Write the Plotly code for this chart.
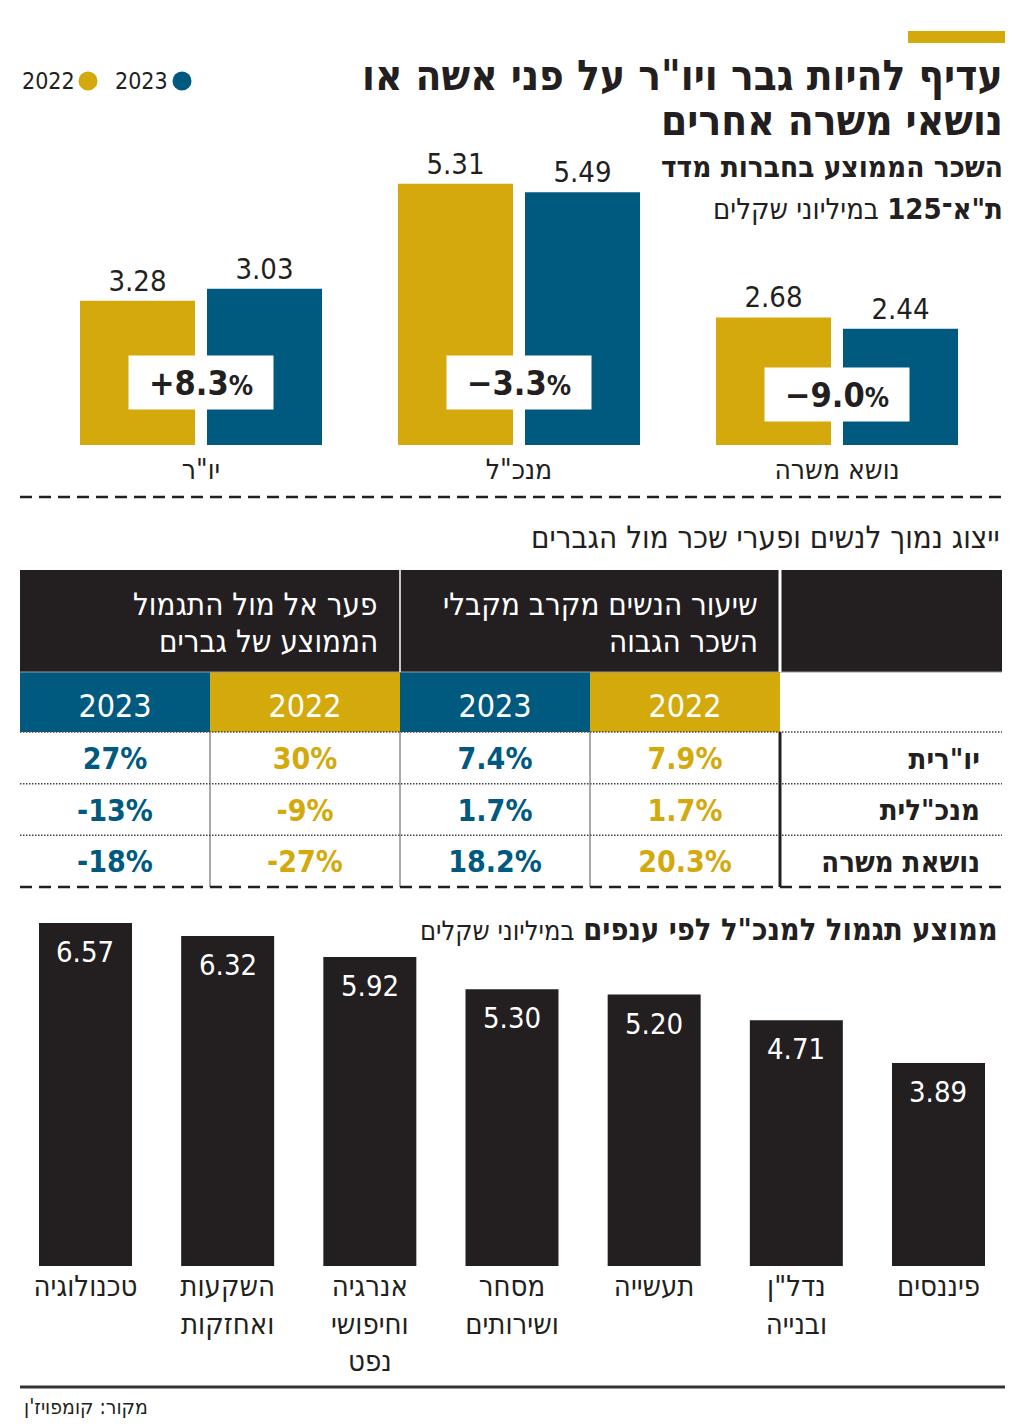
import plotly.graph_objects as go

W, H = 1024, 1428
GOLD = "#D3A90C"
BLUE = "#005A80"
INK = "#231F20"
FONT = "DejaVu Sans Condensed, DejaVu Sans, sans-serif"

# ---------------- data ----------------
legend_years = ["2022", "2023"]

roles = ['יו"ר', 'מנכ"ל', 'נושא משרה']
pay_2022 = [3.03, 5.49, 2.68]          # bar heights as drawn
pay_2023 = [3.28, 5.31, 2.44]
printed_2022 = ["3.28", "5.31", "2.68"]  # labels as printed above the bars
printed_2023 = ["3.03", "5.49", "2.44"]
pay_change = [8.3, -3.3, -9.0]

table_groups = [["פער אל מול התגמול", "הממוצע של גברים"],
                ["שיעור הנשים מקרב מקבלי", "השכר הגבוה"]]
table_years = ["2023", "2022", "2023", "2022"]
table_rows = ['יו"רית', 'מנכ"לית', 'נושאת משרה']
gap_2023 = ["27%", "-13%", "-18%"]
gap_2022 = ["30%", "-9%", "-27%"]
share_2023 = ["7.4%", "1.7%", "18.2%"]
share_2022 = ["7.9%", "1.7%", "20.3%"]

sectors = ["טכנולוגיה", "השקעות<br>ואחזקות", "אנרגיה<br>וחיפושי<br>נפט",
           "מסחר<br>ושירותים", "תעשייה", 'נדל"ן<br>ובנייה', "פיננסים"]
ceo_pay = [6.57, 6.32, 5.92, 5.30, 5.20, 4.71, 3.89]

# ---------------- layout helpers ----------------
def X(px):
    return px / W

def Y(py):
    return 1 - py / H

SC1, BASE1, TOP_MAX = 47.6, 445, 6.5
SC2, BASE2, BOT_MAX = 52.2, 1266, 7.0
BOX_Y = [1.32, 1.32, 1.07]

fig = go.Figure()

# ---------------- top chart ----------------
GROUP = 318.0
fig.add_trace(go.Bar(
    x=roles, y=pay_2022, name=legend_years[0], marker=dict(color=GOLD, line=dict(width=0)),
    width=115 / GROUP, offset=-121 / GROUP,
    text=printed_2022, textposition="outside", cliponaxis=False,
    textfont=dict(size=29, color=INK, family=FONT),
    xaxis="x", yaxis="y", showlegend=False, hoverinfo="skip"))
fig.add_trace(go.Bar(
    x=roles, y=pay_2023, name=legend_years[1], marker=dict(color=BLUE, line=dict(width=0)),
    width=115 / GROUP, offset=6 / GROUP,
    text=printed_2023, textposition="outside", cliponaxis=False,
    textfont=dict(size=29, color=INK, family=FONT),
    xaxis="x", yaxis="y", showlegend=False, hoverinfo="skip"))

annotations = []
for r, ch, by in zip(roles, pay_change, BOX_Y):
    sign = "+" if ch > 0 else "−"
    annotations.append(dict(
        x=r, y=by, xref="x", yref="y", showarrow=False,
        text=f"<b>{sign}{abs(ch):.1f}<span style='font-size:27px'>%</span></b>",
        font=dict(size=34, color=INK, family=FONT),
        bgcolor="white", width=144, height=53, borderpad=0,
        xanchor="center", yanchor="middle"))

# ---------------- bottom chart ----------------
SLOT = (938.5 - 85.5) / 6
fig.add_trace(go.Bar(
    x=sectors, y=ceo_pay, marker=dict(color=INK, line=dict(width=0)),
    width=93 / SLOT, xaxis="x2", yaxis="y2", showlegend=False, hoverinfo="skip"))
for s, v in zip(sectors, ceo_pay):
    annotations.append(dict(
        x=s, y=v, xref="x2", yref="y2", showarrow=False, text=f"{v:.2f}",
        font=dict(size=29, color="white", family=FONT),
        xanchor="center", yanchor="top", yshift=-10))

# ---------------- table ----------------
COLW = 190.0
ROWH = 155 / 3.0
TX_MAX = 982 / COLW
HDR_TOP = -(887 - 570) / ROWH + 2.5      # top of header in row units
YEAR_TOP = -0.5 - (732 - 672) / ROWH     # top of year row
TXT_DY = 0.07                            # optical centring of text in rows

cols = [gap_2023, gap_2022, share_2023, share_2022]
col_colors = [BLUE, GOLD, BLUE, GOLD]
for j, (col, c) in enumerate(zip(cols, col_colors)):
    fig.add_trace(go.Scatter(
        x=[j + 0.5] * len(col), y=[i + TXT_DY for i in range(len(col))], mode="text", text=col,
        textfont=dict(size=30, color=c, family=FONT, weight="bold"),
        xaxis="x3", yaxis="y3", showlegend=False, hoverinfo="skip"))
fig.add_trace(go.Scatter(
    x=[j + 0.5 for j in range(len(table_years))], y=[(YEAR_TOP - 0.5) / 2 + 0.13] * len(table_years),
    mode="text", text=table_years, textfont=dict(size=32, color="white", family=FONT),
    xaxis="x3", yaxis="y3", showlegend=False, hoverinfo="skip"))
fig.add_trace(go.Scatter(
    x=[(980 - 20) / COLW] * len(table_rows), y=[i + TXT_DY for i in range(len(table_rows))],
    mode="text", text=table_rows, textposition="middle left",
    textfont=dict(size=29, color=INK, family=FONT, weight="bold"),
    xaxis="x3", yaxis="y3", showlegend=False, hoverinfo="skip"))

shapes = []
# header block
shapes.append(dict(type="rect", xref="x3", yref="y3", x0=0, x1=TX_MAX, y0=HDR_TOP, y1=YEAR_TOP,
                   fillcolor=INK, line=dict(width=0), layer="below"))
for j in range(4):
    shapes.append(dict(type="rect", xref="x3", yref="y3", x0=j, x1=j + 1, y0=YEAR_TOP, y1=-0.5,
                       fillcolor=col_colors[j], line=dict(width=0), layer="below"))
shapes.append(dict(type="line", xref="x3", yref="y3", x0=0, x1=TX_MAX, y0=YEAR_TOP, y1=YEAR_TOP,
                   line=dict(color="#9a9a9a", width=1)))
shapes.append(dict(type="line", xref="x3", yref="y3", x0=2, x1=2, y0=HDR_TOP, y1=YEAR_TOP,
                   line=dict(color="white", width=1.5)))
shapes.append(dict(type="line", xref="x3", yref="y3", x0=4, x1=4, y0=HDR_TOP, y1=YEAR_TOP,
                   line=dict(color="white", width=3)))
for yy in [-0.5, 0.5, 1.5]:
    shapes.append(dict(type="line", xref="x3", yref="y3", x0=0, x1=TX_MAX, y0=yy, y1=yy,
                       line=dict(color="#444", width=1.5, dash="1.5px,1.5px")))
for xx in [1, 2, 3]:
    shapes.append(dict(type="line", xref="x3", yref="y3", x0=xx, x1=xx, y0=-0.5, y1=2.5,
                       line=dict(color="#555", width=1)))
shapes.append(dict(type="line", xref="x3", yref="y3", x0=4, x1=4, y0=-0.5, y1=2.5,
                   line=dict(color=INK, width=3)))

# header texts
for g, xr in zip(table_groups, [380, 760]):
    for line, yc in zip(g, [604, 641]):
        annotations.append(dict(x=X(xr), y=Y(yc), xref="paper", yref="paper", showarrow=False,
                                text=line, xanchor="right", yanchor="middle",
                                font=dict(size=31, color="white", family=FONT)))

# ---------------- decorations ----------------
shapes.append(dict(type="rect", xref="paper", yref="paper", x0=X(908), x1=X(1005), y0=Y(43), y1=Y(31),
                   fillcolor=GOLD, line=dict(width=0)))
shapes.append(dict(type="line", xref="paper", yref="paper", x0=X(20), x1=X(1005), y0=Y(497), y1=Y(497),
                   line=dict(color=INK, width=2.5, dash="12px,7px")))
shapes.append(dict(type="line", xref="paper", yref="paper", x0=X(20), x1=X(1002), y0=Y(887), y1=Y(887),
                   line=dict(color=INK, width=2.5, dash="12px,7px")))
shapes.append(dict(type="line", xref="paper", yref="paper", x0=X(20), x1=X(1005), y0=Y(1387), y1=Y(1387),
                   line=dict(color="#333", width=3)))
# legend dots
for cx, c in [(88, GOLD), (182, BLUE)]:
    shapes.append(dict(type="circle", xref="paper", yref="paper", x0=X(cx - 9.5), x1=X(cx + 9.5),
                       y0=Y(81 + 9.5), y1=Y(81 - 9.5), fillcolor=c, line=dict(width=0)))
for yr, cx in zip(legend_years, [48, 141]):
    annotations.append(dict(x=X(cx), y=Y(81), xref="paper", yref="paper", showarrow=False, text=yr,
                            xanchor="center", yanchor="middle",
                            font=dict(size=23, color=INK, family=FONT)))

def txt(text, xr, yc, size, bold=False, anchor="right", color=INK):
    t = f"<b>{text}</b>" if bold else text
    annotations.append(dict(x=X(xr), y=Y(yc), xref="paper", yref="paper", showarrow=False,
                            text=t, xanchor=anchor, yanchor="middle",
                            font=dict(size=size, color=color, family=FONT)))

txt('עדיף להיות גבר ויו"ר על פני אשה או', 1005, 75, 42, bold=True)
txt("נושאי משרה אחרים", 1005, 120, 42, bold=True)
txt("השכר הממוצע בחברות מדד", 1005, 167, 29.5, bold=True)
txt('<b>ת"א־125</b> במיליוני שקלים', 1005, 209, 29)
txt("ייצוג נמוך לנשים ופערי שכר מול הגברים", 1002, 537, 31)
txt("<b>ממוצע תגמול למנכ\"ל לפי ענפים</b> <span style='font-size:27px'>במיליוני שקלים</span>", 1000, 929, 30.5)
txt("מקור: קומפויז'ן", 22, 1407, 21, anchor="left")

fig.update_layout(
    width=W, height=H, margin=dict(l=0, r=0, t=0, b=0), autosize=False,
    paper_bgcolor="white", plot_bgcolor="rgba(0,0,0,0)",
    font=dict(family=FONT, color=INK),
    barmode="overlay", showlegend=False,
    annotations=annotations, shapes=shapes,
    xaxis=dict(domain=[X(42), X(996)], anchor="y", showgrid=False, zeroline=False, showline=False,
               ticks="", ticklabelstandoff=5,
               tickfont=dict(size=28, color=INK, family=FONT), fixedrange=True),
    yaxis=dict(domain=[Y(BASE1), Y(BASE1 - TOP_MAX * SC1)], range=[0, TOP_MAX], anchor="x",
               visible=False, fixedrange=True),
    xaxis2=dict(domain=[X(85.5 - SLOT / 2), X(938.5 + SLOT / 2)], anchor="y2", showgrid=False,
                zeroline=False, showline=False, ticks="",
                tickfont=dict(size=29, color=INK, family=FONT), fixedrange=True),
    yaxis2=dict(domain=[Y(BASE2), Y(BASE2 - BOT_MAX * SC2)], range=[0, BOT_MAX], anchor="x2",
                visible=False, fixedrange=True),
    xaxis3=dict(domain=[X(20), X(1002)], range=[0, TX_MAX], anchor="y3", visible=False, fixedrange=True),
    yaxis3=dict(domain=[Y(887), Y(570)], range=[2.5, HDR_TOP], anchor="x3", visible=False, fixedrange=True),
)

fig.write_html("out.html", config={"displayModeBar": False},
               post_script="document.body.style.margin='0';document.body.style.padding='0';")
